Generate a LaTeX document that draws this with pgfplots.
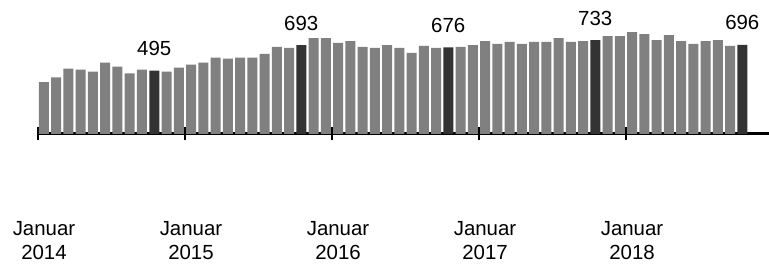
\documentclass[border=0pt]{standalone}
\usepackage{fontspec}
\setmainfont{Liberation Sans}
\usepackage{pgfplots}
\pgfplotsset{compat=1.18}
\definecolor{barg}{RGB}{128,128,128}
\definecolor{bard}{RGB}{51,51,51}
\begin{document}
\begin{tikzpicture}
\begin{axis}[
  name=ax,
  scale only axis,
  width=731.5bp, height=267bp,
  xmin=-0.53, xmax=59.18,
  ymin=-1037.4, ymax=1045.2,
  axis x line=middle, axis y line=none,
  x axis line style={-, line width=3bp, black},
  ybar, bar width=10bp, bar shift=0pt,
  xtick={0,12,24,36,48},
  xticklabels={{Januar\\2014},{Januar\\2015},{Januar\\2016},{Januar\\2017},{Januar\\2018}},
  major tick length=0pt,
  xticklabel style={align=center, anchor=north, yshift=-86bp, font=\fontsize{20.5}{24.5}\selectfont, inner sep=1bp},
  extra x ticks={-0.5,11.5,23.5,35.5,47.5},
  extra x tick labels={},
  extra x tick style={major tick length=13bp, tick align=center, tick style={line width=2bp, black}},
  ytick=\empty,
  nodes near coords,
  /pgf/number format/assume math mode=true,
  every node near coord/.append style={anchor=base, yshift=15bp, font=\fontsize{20.5}{24}\selectfont, text=black},
  clip=false,
]
\addplot[fill=barg, draw=none, nodes near coords={}] coordinates {
(0,405)(1,441)(2,510)(3,503)(4,487)(5,556)(6,526)(7,472)(8,503)
(10,487)(11,518)(12,541)(13,556)(14,595)(15,587)(16,595)(17,595)(18,625)(19,679)(20,671)
(22,748)(23,748)(24,710)(25,725)(26,679)(27,671)(28,694)(29,671)(30,633)(31,687)(32,671)
(34,679)(35,694)(36,725)(37,702)(38,718)(39,702)(40,718)(41,718)(42,748)(43,718)(44,725)
(46,764)(47,764)(48,794)(49,779)(50,733)(51,771)(52,725)(53,702)(54,725)(55,733)(56,687)
};
\addplot[fill=bard, draw=none] coordinates {
(9,495)(21,693)(33,676)(45,733)(57,696)
};
\end{axis}
\pgfresetboundingbox
\path ([xshift=-37.5bp]ax.south west) rectangle (ax.north east);
\end{tikzpicture}
\end{document}
